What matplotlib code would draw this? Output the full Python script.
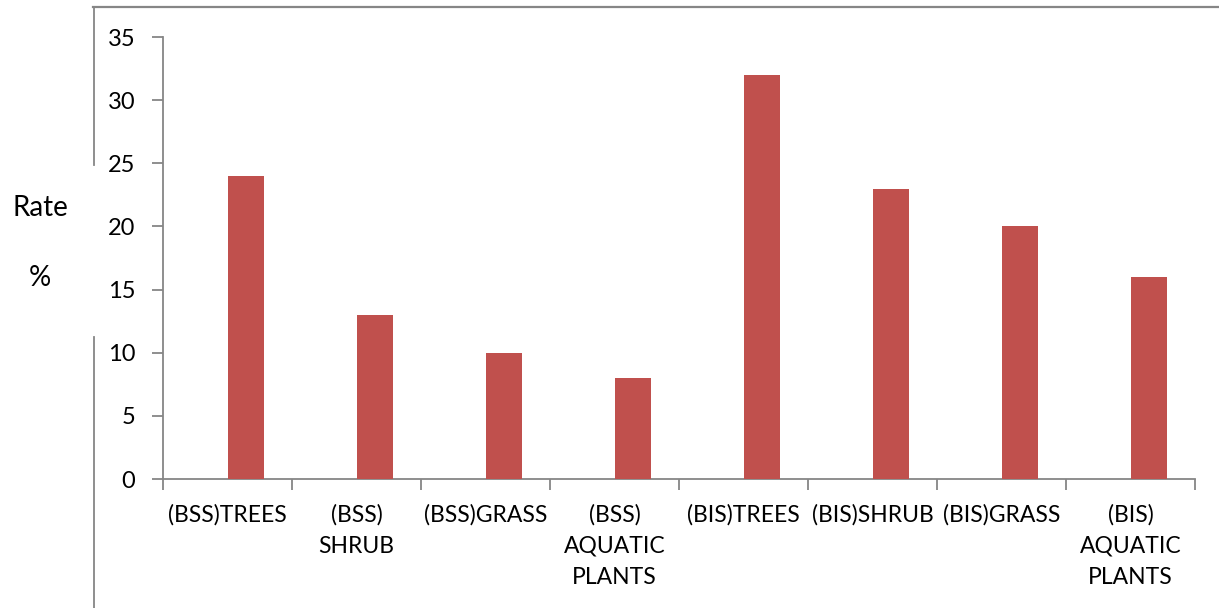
import matplotlib
matplotlib.use("Agg")
import matplotlib.pyplot as plt
from matplotlib.lines import Line2D

categories = ["(BSS)TREES", "(BSS)\nSHRUB", "(BSS)GRASS", "(BSS)\nAQUATIC\nPLANTS",
              "(BIS)TREES", "(BIS)SHRUB", "(BIS)GRASS", "(BIS)\nAQUATIC\nPLANTS"]
values = [24, 13, 10, 8, 32, 23, 20, 16]
yticks = [0, 5, 10, 15, 20, 25, 30, 35]

plt.rcParams['font.family'] = ['Lato', 'DejaVu Sans']
W, H = 1219, 608
fig = plt.figure(figsize=(W / 100, H / 100), dpi=100)
ax = fig.add_axes([163 / W, 1 - 479 / H, (1195 - 163) / W, (479 - 37) / H])

grey = '#868686'
x = list(range(len(categories)))
ax.bar(x, values, width=0.28, align='edge', color='#C0504D', zorder=3)
ax.set_xlim(-0.5, len(categories) - 0.5)
ax.set_ylim(0, 35)
ax.set_yticks(yticks)
ax.set_yticklabels([str(v) for v in yticks])
ax.set_xticks(x)
ax.set_xticklabels(categories, linespacing=1.6)
ax.set_xticks([i - 0.5 for i in range(len(categories) + 1)], minor=True)
ax.tick_params(axis='x', which='major', length=0, pad=18, labelsize=16.5)
ax.tick_params(axis='x', which='minor', length=8, width=1.3, color=grey, direction='out')
ax.tick_params(axis='y', length=8, width=1.3, color=grey, direction='out', pad=12, labelsize=17)
for s in ['top', 'right']:
    ax.spines[s].set_visible(False)
for s in ['left', 'bottom']:
    ax.spines[s].set_color(grey)
    ax.spines[s].set_linewidth(1.3)

# Outer chart border (partially visible)
def fx(px):
    return px / W
def fy(py):
    return 1 - py / H
fig.add_artist(Line2D([fx(93), fx(1219)], [fy(7), fy(7)], color=grey, lw=1.6))
fig.add_artist(Line2D([fx(93.5), fx(93.5)], [fy(7), fy(165)], color=grey, lw=1.3))
fig.add_artist(Line2D([fx(93.5), fx(93.5)], [fy(337), fy(608)], color=grey, lw=1.3))

fig.text(fx(40), fy(208), "Rate", ha='center', va='center', fontsize=20)
fig.text(fx(40), fy(278), "%", ha='center', va='center', fontsize=20)

fig.savefig("out.png", dpi=100)
